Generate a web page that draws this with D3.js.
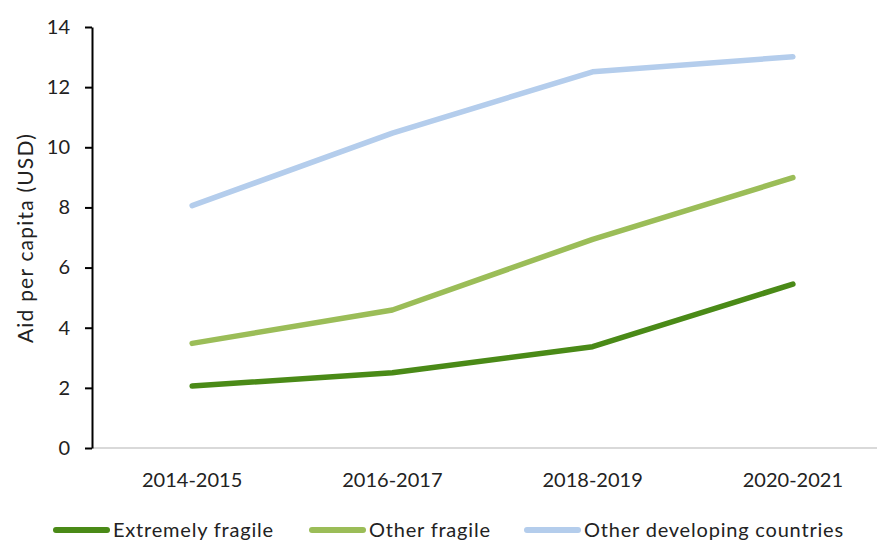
<!DOCTYPE html>
<html>
<head>
<meta charset="utf-8">
<script src="https://cdn.jsdelivr.net/npm/d3@7"></script>
<style>
  html, body { margin: 0; padding: 0; background: #fff; }
  svg { display: block; font-family: Lato, "Open Sans", sans-serif; }
</style>
</head>
<body>
<svg id="chart" width="877" height="542"></svg>
<script>
// Periods on the x axis
const periods = ["2014-2015", "2016-2017", "2018-2019", "2020-2021"];
// Aid per capita (USD) by group
const extremelyFragile = [2.06, 2.5, 3.37, 5.45];
const otherFragile = [3.48, 4.59, 6.94, 8.99];
const otherDeveloping = [8.06, 10.47, 12.51, 13.01];
const seriesNames = ["Extremely fragile", "Other fragile", "Other developing countries"];
const yTicks = [0, 2, 4, 6, 8, 10, 12, 14];

(function () {
  const seriesColors = ["#4a8a17", "#9bbd58", "#b4cdec"];
  const series = [extremelyFragile, otherFragile, otherDeveloping].map((values, i) => ({
    name: seriesNames[i], values, color: seriesColors[i]
  }));

  const svg = d3.select("#chart");
  const plotLeft = 92, plotRight = 893, plotTop = 27, plotBottom = 448;

  const x = d3.scaleBand().domain(periods).range([plotLeft, plotRight]);
  const y = d3.scaleLinear().domain([0, 14]).range([plotBottom, plotTop]);

  // x axis baseline
  svg.append("line")
    .attr("x1", plotLeft).attr("x2", 877)
    .attr("y1", plotBottom).attr("y2", plotBottom)
    .attr("stroke", "#d9d9d9").attr("stroke-width", 2);

  // y axis
  const yAxis = svg.append("g")
    .attr("transform", `translate(${plotLeft},0)`)
    .call(d3.axisLeft(y).tickValues(yTicks).tickSize(7).tickPadding(15).tickSizeOuter(0));
  yAxis.select(".domain").attr("stroke", "#000").attr("stroke-width", 2);
  yAxis.selectAll(".tick line").attr("stroke", "#000").attr("stroke-width", 2);
  yAxis.selectAll(".tick text")
    .attr("fill", "#222").style("font-size", "20px").style("font-family", "Lato, sans-serif");

  // x labels
  const xAxis = svg.append("g")
    .attr("transform", `translate(0,${plotBottom})`)
    .call(d3.axisBottom(x).tickSize(0).tickPadding(25));
  xAxis.select(".domain").remove();
  xAxis.selectAll(".tick text")
    .attr("fill", "#222").style("font-size", "20px").style("font-family", "Lato, sans-serif");

  // y axis title
  svg.append("text")
    .attr("transform", `translate(33,238) rotate(-90)`)
    .attr("text-anchor", "middle")
    .attr("fill", "#222")
    .style("font-size", "21px")
    .style("letter-spacing", "1.2px")
    .text("Aid per capita (USD)");

  // lines
  const line = d3.line()
    .x((d, i) => x(periods[i]) + x.bandwidth() / 2)
    .y(d => y(d));

  svg.append("g").selectAll("path")
    .data(series)
    .join("path")
    .attr("d", d => line(d.values))
    .attr("fill", "none")
    .attr("stroke", d => d.color)
    .attr("stroke-width", 5.5)
    .attr("stroke-linecap", "round")
    .attr("stroke-linejoin", "round");

  // legend
  const legendX = [56, 312, 527];
  const legend = svg.append("g").selectAll("g")
    .data(series)
    .join("g")
    .attr("transform", (d, i) => `translate(${legendX[i]},530)`);
  legend.append("line")
    .attr("x1", 0).attr("x2", 51)
    .attr("stroke", d => d.color)
    .attr("stroke-width", 6)
    .attr("stroke-linecap", "round");
  legend.append("text")
    .attr("x", 57).attr("y", 7)
    .attr("fill", "#222")
    .style("font-size", "20px")
    .style("letter-spacing", "0.8px")
    .text(d => d.name);
})();
</script>
</body>
</html>
